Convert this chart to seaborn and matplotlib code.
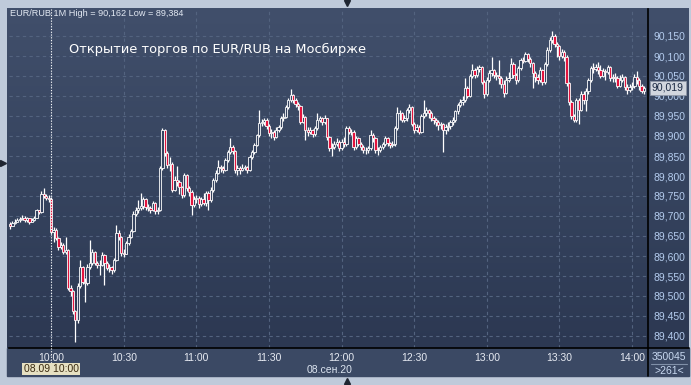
import numpy as np
import pandas as pd
import matplotlib
matplotlib.use('Agg')
import matplotlib.pyplot as plt
import seaborn as sns
from matplotlib.lines import Line2D
from matplotlib.patches import Rectangle
from matplotlib.colors import LinearSegmentedColormap

# 1-minute EUR/RUB quotes, in thousandths above 89.000 (742 -> 89,742)
first_open_pts = 680
close_pts = [
    676, 683, 686, 690, 693, 696, 689, 694, 686, 691, 696, 714, 711, 755, 750, 746, 742,
    660, 665, 645, 622, 628, 610, 616, 520, 512, 462, 440, 525, 572, 536, 532, 572, 582, 610, 583,
    577, 578, 602, 582, 570, 572, 566, 590,
    658, 648, 608, 606, 632, 648, 662, 706, 715, 720, 724, 742, 722, 720, 714, 732, 712, 714,
    819, 915, 858, 828, 830, 766, 790, 786, 773, 752, 802, 770, 760, 728, 742, 745, 730, 742,
    732, 757, 740, 765, 790, 808,
    822, 819, 816, 840, 861, 873, 862, 815, 820, 816, 820, 823, 815, 848, 860, 877, 902, 932,
    935, 940, 925, 907, 911, 898, 915, 923, 944, 948, 973, 990, 1002, 990, 980, 975, 936,
    948, 915, 911, 915, 905, 920, 940, 944, 935, 944, 898, 869, 873, 880, 886, 869, 886, 880,
    919, 911, 911, 873, 894, 880, 873, 865, 865, 870, 902, 895, 865, 865, 873, 880, 894, 882,
    877, 880, 919, 957, 957, 940, 944, 965, 973, 930, 915, 923, 911, 950, 957,
    965, 957, 945, 940, 935, 928, 930, 915, 922, 925, 935, 940, 962, 977, 985, 990, 1019, 1000,
    1050, 1065, 1052, 1068, 1072, 1036, 1004, 1040, 1058, 1065, 1052, 1050, 1044, 1030, 1008,
    1040, 1046, 1080, 1052, 1040, 1070, 1090, 1088, 1105, 1092, 1082, 1058, 1048, 1040, 1065,
    1036, 1080, 1115, 1140, 1150, 1130, 1126, 1100, 1110, 1098, 1032, 986, 950, 940, 990, 966,
    1005, 990, 1012, 1040, 1070, 1068, 1072, 1065, 1050, 1062, 1060, 1072, 1044, 1048, 1045,
    1026, 1040, 1048, 1022, 1015, 1022, 1026, 1048, 1040, 1025, 1012, 1019,
]
high_pts = [
    684, 688, 692, 696, 698, 703, 700, 698, 696, 696, 700, 718, 716, 762, 770, 756, 752,
    748, 672, 670, 648, 636, 632, 648, 618, 527, 515, 465, 532, 590, 575, 545, 580, 640, 618, 612,
    588, 590, 610, 606, 588, 580, 576, 596,
    677, 665, 650, 618, 638, 655, 668, 712, 722, 740, 757, 748, 745, 730, 725, 738, 734, 722,
    824, 921, 918, 862, 848, 834, 800, 826, 790, 776, 808, 806, 776, 764, 750, 752, 750, 748,
    758, 762, 762, 772, 794, 814,
    840, 828, 825, 846, 866, 894, 878, 866, 828, 826, 830, 828, 826, 852, 866, 882, 906, 965,
    942, 946, 944, 930, 918, 915, 922, 928, 950, 957, 978, 996, 1017, 1006, 994, 984, 978,
    954, 950, 922, 922, 918, 926, 957, 950, 948, 952, 946, 900, 882, 888, 894, 890, 892, 898,
    924, 925, 918, 914, 900, 898, 884, 878, 872, 876, 915, 908, 898, 872, 878, 884, 900, 898,
    886, 888, 924, 973, 964, 960, 952, 970, 980, 976, 936, 930, 928, 956, 990,
    972, 968, 962, 950, 946, 940, 936, 932, 930, 934, 940, 948, 966, 982, 992, 1000, 1046, 1024,
    1056, 1080, 1070, 1075, 1078, 1076, 1040, 1048, 1064, 1098, 1068, 1060, 1090, 1050, 1040,
    1050, 1060, 1094, 1086, 1058, 1076, 1094, 1098, 1111, 1108, 1098, 1086, 1062, 1054, 1072,
    1068, 1086, 1122, 1148, 1162, 1154, 1136, 1128, 1118, 1114, 1102, 1036, 990, 956, 996, 994,
    1012, 1012, 1020, 1046, 1076, 1082, 1080, 1086, 1078, 1070, 1068, 1078, 1076, 1056, 1058,
    1050, 1052, 1056, 1050, 1030, 1030, 1034, 1056, 1062, 1046, 1030, 1024,
]
low_pts = [
    668, 674, 680, 684, 686, 690, 685, 686, 680, 684, 688, 694, 706, 708, 744, 739, 736,
    655, 635, 640, 615, 618, 605, 606, 515, 500, 455, 384, 432, 520, 530, 486, 528, 568, 578, 578,
    570, 552, 574, 527, 565, 560, 555, 560,
    588, 640, 600, 598, 604, 628, 645, 660, 700, 708, 715, 718, 716, 712, 708, 712, 706, 706,
    712, 815, 850, 820, 812, 760, 762, 776, 754, 744, 748, 762, 750, 703, 722, 732, 720, 724,
    728, 726, 715, 735, 760, 784,
    806, 810, 808, 812, 836, 856, 855, 808, 803, 806, 812, 814, 808, 812, 842, 856, 874, 898,
    924, 928, 918, 900, 894, 890, 894, 910, 918, 938, 944, 968, 984, 982, 972, 966, 930,
    932, 890, 900, 904, 898, 900, 916, 934, 928, 930, 890, 862, 850, 868, 874, 862, 866, 872,
    876, 904, 902, 866, 868, 874, 866, 858, 855, 858, 866, 886, 858, 852, 860, 868, 876, 876,
    870, 872, 876, 915, 940, 934, 936, 938, 958, 924, 908, 910, 904, 908, 944,
    950, 944, 938, 930, 926, 915, 918, 860, 906, 912, 918, 928, 936, 955, 972, 978, 986, 994,
    998, 1046, 1046, 1048, 1060, 1030, 994, 1000, 1036, 1050, 1046, 1040, 1030, 1020, 998,
    1004, 1036, 1044, 1046, 1030, 1036, 1066, 1082, 1084, 1086, 1072, 1020, 1036, 1030, 1036,
    1028, 1030, 1076, 1110, 1132, 1122, 1098, 1090, 1094, 1088, 1026, 978, 942, 934, 936, 930,
    962, 980, 962, 1006, 1036, 1058, 1062, 1056, 1044, 1048, 1040, 1054, 1038, 1036, 1034,
    1020, 1022, 1034, 1014, 1004, 1010, 1016, 1020, 1030, 1014, 1008, 1006,
]

session_start = pd.Timestamp('2020-09-08 09:43')
time_labels = ['10:00', '10:30', '11:00', '11:30', '12:00', '12:30', '13:00', '13:30', '14:00']
price_ticks = [89.40, 89.45, 89.50, 89.55, 89.60, 89.65, 89.70, 89.75,
               89.80, 89.85, 89.90, 89.95, 90.00, 90.05, 90.10, 90.15]

df = pd.DataFrame({
    'close': 89 + np.array(close_pts) / 1000,
    'high': 89 + np.array(high_pts) / 1000,
    'low': 89 + np.array(low_pts) / 1000,
})
df['open'] = df['close'].shift(1).fillna(89 + first_open_pts / 1000)
df['time'] = pd.date_range(session_start, periods=len(df), freq='min')
df['x'] = np.arange(len(df))

W, H = 691, 385


def fx(px):
    return px / W


def fy(py):
    return 1 - py / H


sns.set_style('dark', rc={'axes.facecolor': 'none', 'axes.edgecolor': 'black'})
plt.rcParams['font.family'] = ['Liberation Sans', 'DejaVu Sans']

fig = plt.figure(figsize=(6.91, 3.85), dpi=100, facecolor='#BFCADA')

# dark chart panel with a soft vertical gradient
bg = fig.add_axes([fx(7), fy(348), fx(689) - fx(7), fy(8) - fy(348)], zorder=0)
grad = np.linspace(0, 1, 256).reshape(-1, 1)
cmap = LinearSegmentedColormap.from_list('panel', ['#414F6B', '#36445F', '#2C3852'])
bg.imshow(grad, aspect='auto', cmap=cmap, extent=[0, 1, 0, 1])
bg.set_axis_off()
fig.patches.append(Rectangle((fx(7), fy(376)), fx(689) - fx(7), fy(348) - fy(376),
                             transform=fig.transFigure, color='#3B4964', zorder=0.5))

ax = fig.add_axes([fx(9), fy(348), fx(648) - fx(9), fy(9) - fy(348)], zorder=2)
ax.set_facecolor('none')

up = df['close'] >= df['open']
dn = ~up
body_top = np.maximum(df['open'], df['close'])
body_bot = np.minimum(df['open'], df['close'])

ax.vlines(df['x'], body_top, df['high'], color='white', lw=0.9, zorder=3)
ax.vlines(df['x'], df['low'], body_bot, color='white', lw=0.9, zorder=3)
ax.bar(df['x'][up], (body_top - body_bot)[up], bottom=body_bot[up], width=0.95,
       facecolor='#354360', edgecolor='white', linewidth=0.6, zorder=4)
ax.bar(df['x'][dn], (body_top - body_bot)[dn], bottom=body_bot[dn], width=0.95,
       facecolor='#E3143E', edgecolor='white', linewidth=0.6, zorder=4)

x_left = (9 - 10) / 2.42
x_right = (648 - 10) / 2.42
ax.set_xlim(x_left, x_right)
ax.set_ylim(90 + (96 - 348) / 400, 90 + (96 - 9) / 400)

tick_pos = [(pd.Timestamp('2020-09-08 ' + t) - session_start) / pd.Timedelta(minutes=1)
            for t in time_labels]
ax.set_xticks(tick_pos)
ax.set_xticklabels(time_labels)
ax.set_yticks(price_ticks)
ax.set_yticklabels([f'{p:.3f}'.replace('.', ',') for p in price_ticks])
ax.yaxis.tick_right()
ax.tick_params(axis='x', length=0, pad=3.5, labelcolor='#E6EAF2', labelsize=7.5)
ax.tick_params(axis='y', length=0, pad=4, labelcolor='#B4CCEE', labelsize=7.5)
ax.grid(True, color='#53637F', ls=(0, (3, 3)), lw=0.8)
for side in ['top', 'left']:
    ax.spines[side].set_visible(False)
for side in ['right', 'bottom']:
    ax.spines[side].set_color('black')
    ax.spines[side].set_linewidth(1.2)

# frame lines that run past the plot area
fig.add_artist(Line2D([fx(648), fx(648)], [fy(348), fy(376)], color='black', lw=1.2))
fig.add_artist(Line2D([fx(648), fx(689)], [fy(348), fy(348)], color='black', lw=1.2))
fig.add_artist(Line2D([fx(51), fx(51)], [fy(9), fy(364)], color='white', lw=0.8,
                      ls=(0, (1, 1.5)), zorder=5))

fig.text(fx(10), fy(14), 'EUR/RUB 1M High = 90,162 Low = 89,384', fontsize=6.6,
         color='#E2E8F2', va='center', ha='left')
fig.text(fx(69), fy(49), 'Открытие торгов по EUR/RUB на Мосбирже', fontsize=9.4,
         color='white', va='center', ha='left', family=['DejaVu Sans'])

fig.text(fx(652), fy(88), '90,019', fontsize=7.5, color='#1C2A44', va='center', ha='left',
         bbox=dict(boxstyle='square,pad=0.18', fc='#D2D6DE', ec='#9098A8', lw=0.6), zorder=6)
fig.text(fx(51), fy(369), '08.09 10:00', fontsize=7.5, color='#3A2A10', va='center',
         ha='center', bbox=dict(boxstyle='square,pad=0.12', fc='#E6E0C2', ec='none'), zorder=6)
fig.text(fx(330), fy(370), '08.сен.20', fontsize=7.5, color='#DCE4F0', va='center', ha='center')
fig.text(fx(669), fy(357), '350045', fontsize=7.5, color='#C8D8F0', va='center', ha='center')
fig.text(fx(669), fy(371), '>261<', fontsize=7.5, color='#C8D8F0', va='center', ha='center')
fig.add_artist(Line2D([fx(651), fx(687)], [fy(364), fy(364)], color='#8090A8', lw=0.8))

for mk, px, py in [('v', 347, 3), ('>', 3, 163), ('^', 347, 381)]:
    fig.add_artist(Line2D([fx(px)], [fy(py)], marker=mk, markersize=5, color='#1E2430', lw=0))

fig.savefig('out.png', dpi=100, facecolor=fig.get_facecolor())
